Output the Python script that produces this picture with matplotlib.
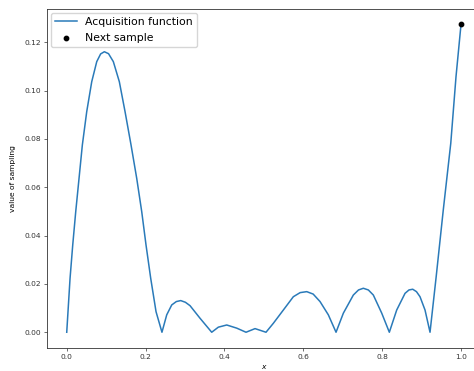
import matplotlib
matplotlib.use("Agg")
import matplotlib.pyplot as plt

x_vals = [0.0, 0.0084, 0.0152, 0.0228, 0.0312, 0.0396, 0.0507, 0.0634, 0.0761, 0.0860, 0.0954,
          0.1060, 0.1182, 0.1334, 0.1479, 0.1631, 0.1775, 0.1902, 0.2011, 0.213, 0.2265, 0.2415,
          0.2536, 0.2663, 0.2780, 0.2891, 0.3010, 0.3127, 0.338, 0.3677,
          0.3845, 0.4058, 0.4311, 0.4547, 0.4776, 0.5054,
          0.524, 0.5494, 0.5747, 0.5920, 0.6087, 0.6250, 0.6424, 0.6635, 0.683,
          0.7016, 0.7269, 0.7400, 0.7522, 0.7650, 0.7776, 0.7989, 0.8182,
          0.8369, 0.858, 0.8680, 0.8775, 0.8870, 0.896, 0.9087, 0.9214,
          0.937, 0.955, 0.974, 0.9873, 1.0]
acq_vals = [0.0, 0.0223, 0.0361, 0.0499, 0.0637, 0.0775, 0.0913, 0.1037, 0.112, 0.1152, 0.1161,
            0.1153, 0.112, 0.1037, 0.0913, 0.0775, 0.0637, 0.0499, 0.0361, 0.0223, 0.0085, 0.0,
            0.0072, 0.0113, 0.0127, 0.0131, 0.0124, 0.0110, 0.0058, 0.0,
            0.0021, 0.0030, 0.0017, 0.0, 0.0015, 0.0,
            0.0037, 0.0092, 0.0147, 0.0164, 0.0168, 0.0158, 0.0127, 0.0072, 0.0,
            0.0079, 0.0154, 0.0175, 0.0182, 0.0175, 0.0154, 0.0079, 0.0,
            0.0092, 0.0161, 0.0175, 0.0178, 0.0168, 0.0147, 0.0092, 0.0,
            0.0230, 0.0506, 0.0782, 0.1058, 0.1274]
next_x = [1.0]
next_y = [0.1274]

fig = plt.figure(figsize=(4.74, 3.71), dpi=100)
ax = fig.add_axes([0.0992, 0.0628, 0.915, 0.913])
ax.plot(x_vals, acq_vals, color='#2a7ab9', lw=1.1, label='Acquisition function')
ax.scatter(next_x, next_y, color='black', s=10, zorder=3, label='Next sample')
ax.set_xlim(-0.05, 1.05)
ax.set_ylim(-0.0064, 0.1338)
ax.set_xlabel('$x$', fontsize=5.4, labelpad=2.5)
ax.set_ylabel('value of sampling', fontsize=5.4, labelpad=6)
ax.tick_params(labelsize=5.4, length=2.3, width=0.5, pad=2, colors='#333333')
for s in ax.spines.values():
    s.set_linewidth(0.6)
    s.set_color('#333333')
ax.set_xticks([0.0, 0.2, 0.4, 0.6, 0.8, 1.0])
ax.set_yticks([0.0, 0.02, 0.04, 0.06, 0.08, 0.10, 0.12])
ax.legend(loc='upper left', fontsize=7.8, handlelength=2.0, borderaxespad=0.35)
fig.savefig('out.png', dpi=100)
